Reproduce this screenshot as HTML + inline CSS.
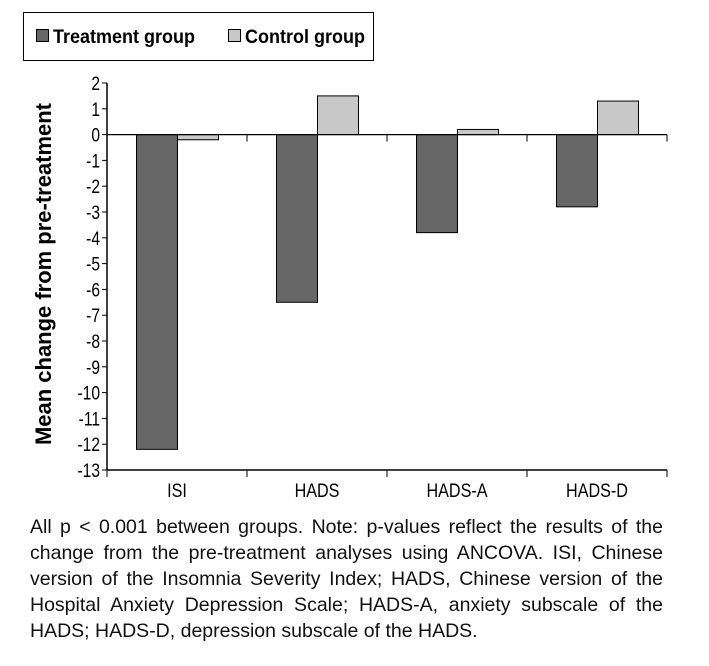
<!DOCTYPE html>
<html><head><meta charset="utf-8"><style>
body{margin:0;background:#fff;width:709px;height:666px;overflow:hidden;position:relative;font-family:"Liberation Sans",Arial,sans-serif}
svg{position:absolute;left:0;top:0}
#note{position:absolute;left:30px;top:514px;width:633px;font-size:19.5px;line-height:26px;color:#111}
#note div{text-align:justify;text-align-last:justify;white-space:nowrap}
#note div.last{text-align-last:left}
</style></head><body>
<svg width="709" height="510">
<g>
<rect x="23.5" y="12.5" width="350" height="48" fill="#fff" stroke="#000" stroke-width="1"/>
<rect x="36.5" y="29.5" width="12" height="12" fill="#666" stroke="#000"/>
<text x="53" y="43" font-size="19" font-weight="bold" textLength="142" lengthAdjust="spacingAndGlyphs">Treatment group</text>
<rect x="228.5" y="29.5" width="12" height="12" fill="#c8c8c8" stroke="#000"/>
<text x="245" y="43" font-size="19" font-weight="bold" textLength="120" lengthAdjust="spacingAndGlyphs">Control group</text>
</g>
<text transform="translate(51,274) rotate(-90)" text-anchor="middle" font-size="22" font-weight="bold" textLength="342" lengthAdjust="spacingAndGlyphs">Mean change from pre-treatment</text>
<g id="plot"></g>
</svg>
<div id="note">
<div>All p &lt; 0.001 between groups. Note: p-values reflect the results of the</div>
<div>change from the pre-treatment analyses using ANCOVA. ISI, Chinese</div>
<div>version of the Insomnia Severity Index; HADS, Chinese version of the</div>
<div>Hospital Anxiety Depression Scale; HADS-A, anxiety subscale of the</div>
<div class="last">HADS; HADS-D, depression subscale of the HADS.</div>
</div>
<script>
const categories=["ISI","HADS","HADS-A","HADS-D"];
const treatment=[-12.2,-6.5,-3.8,-2.8];
const control=[-0.2,1.5,0.2,1.3];
const yTicks=[2,1,0,-1,-2,-3,-4,-5,-6,-7,-8,-9,-10,-11,-12,-13];
const X0=107,CW=140,YTOP=83,YBOT=470,YMAX=2,YMIN=-13;
function y(v){return YTOP+(YMAX-v)*(YBOT-YTOP)/(YMAX-YMIN);}
function x(i){return X0+i*CW;}
const g=document.getElementById('plot');const NS="http://www.w3.org/2000/svg";
function el(t,a){const e=document.createElementNS(NS,t);for(const k in a)e.setAttribute(k,a[k]);g.appendChild(e);return e;}
const ax=el('line',{x1:X0,y1:YTOP,x2:X0,y2:YBOT,stroke:'#000','stroke-width':1.5});


yTicks.forEach(v=>{
 el('line',{x1:X0-5,x2:X0,y1:y(v),y2:y(v),stroke:'#000'});
 const t=el('text',{x:0,y:0,transform:`translate(${X0-7},${y(v)+7}) scale(0.82,1)`,'text-anchor':'end','font-size':19});
 t.textContent=v;
 
 
});
categories.forEach((c,i)=>{
 const bx=x(i)+29,bw=41;
 const tv=treatment[i],cv=control[i];
 const b1=el('rect',{x:bx+0.5,y:Math.min(y(0),y(tv)),width:bw,height:Math.abs(y(tv)-y(0)),fill:'#666',stroke:'#000'});
 
 
 const b2=el('rect',{x:bx+bw+0.5,y:Math.min(y(0),y(cv)),width:bw,height:Math.abs(y(cv)-y(0)),fill:'#c8c8c8',stroke:'#000'});
 
 
 const t=el('text',{x:0,y:0,transform:`translate(${x(i)+CW/2},${YBOT+27}) scale(0.85,1)`,'text-anchor':'middle','font-size':19});
 t.textContent=c;
 
 
});
for(let i=0;i<=categories.length;i++){
 el('line',{x1:x(i),x2:x(i),y1:y(0),y2:y(0)+7,stroke:'#000'});
 el('line',{x1:x(i),x2:x(i),y1:YBOT,y2:YBOT+7,stroke:'#000'});
}
const zl=el('line',{x1:X0,x2:x(4),y1:y(0),y2:y(0),stroke:'#000','stroke-width':1.2});


const bl=el('line',{x1:X0,x2:x(4),y1:YBOT,y2:YBOT,stroke:'#000','stroke-width':1.5});


</script>
</body></html>
